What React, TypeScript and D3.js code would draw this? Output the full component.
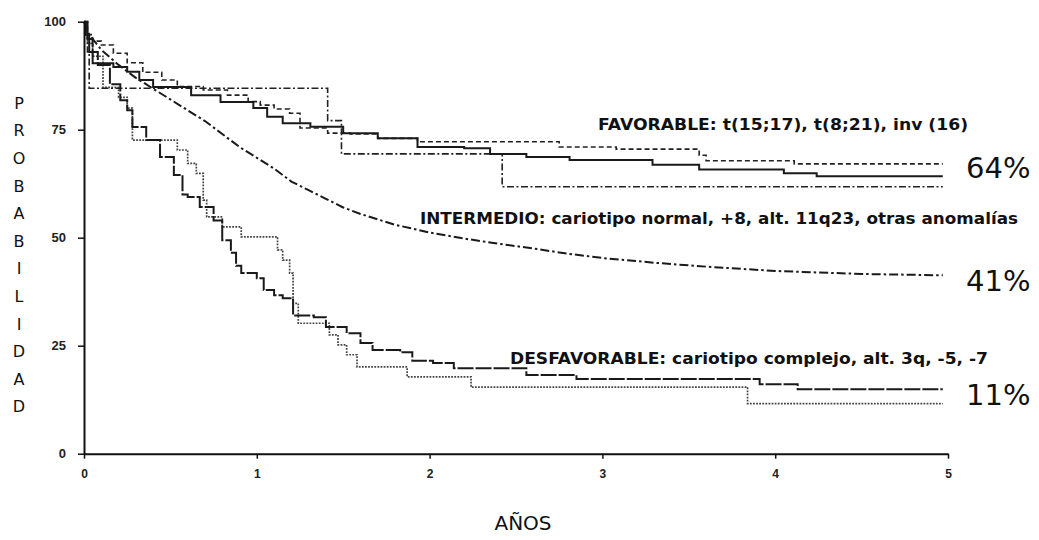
import * as d3 from 'd3';
import React, { useRef, useEffect } from 'react';

// Kaplan-Meier curves, [years, % probability]
const favSolid = [
  [0, 100], [0.01, 97], [0.03, 93], [0.05, 90.4], [0.17, 89.5], [0.25, 88.4], [0.32, 86.5],
  [0.4, 84.9], [0.62, 83], [0.79, 81.4], [0.98, 80], [1.06, 78], [1.15, 76.5], [1.31, 75.7],
  [1.5, 74.2], [1.7, 73], [1.93, 71], [2.2, 70.7], [2.35, 69.4], [2.56, 68.7], [2.81, 68],
  [3.29, 66.9], [3.56, 65.8], [4.05, 64.9], [4.24, 64.2], [4.97, 64.2],
];
const favDashed = [
  [0, 100], [0.02, 97], [0.05, 95.5], [0.1, 94.6], [0.17, 92.7], [0.25, 90.5], [0.34, 88.3],
  [0.45, 86.5], [0.54, 85], [0.69, 84.2], [0.83, 83], [0.95, 81.5], [1.02, 80.7], [1.1, 79.8],
  [1.19, 78.8], [1.25, 75.4], [1.41, 74.2], [1.54, 74], [1.7, 73], [1.93, 72.2], [2.75, 71],
  [3.08, 70.5], [3.56, 69.1], [3.6, 67.8], [4.11, 67.1], [4.97, 67.1],
];
const favDashDot = [
  [0, 100], [0.01, 97], [0.02, 93], [0.03, 84.6], [1.41, 77.1], [1.49, 69.4], [2.42, 61.8], [4.97, 61.8],
];
const intermedio = [
  [0, 100], [0.03, 97], [0.1, 93.5], [0.2, 90], [0.3, 87], [0.4, 84.5], [0.5, 82], [0.6, 79.5],
  [0.7, 77], [0.8, 74], [0.9, 71], [1.0, 68.5], [1.1, 66], [1.2, 63], [1.3, 61], [1.4, 59],
  [1.5, 57], [1.6, 55.5], [1.8, 53], [2.0, 51.2], [2.2, 49.8], [2.4, 48.6], [2.6, 47.5],
  [2.8, 46.3], [3.0, 45.3], [3.3, 44.2], [3.6, 43.3], [4.0, 42.3], [4.5, 41.6], [4.97, 41.3],
];
const desfSolid = [
  [0, 100], [0.02, 96], [0.05, 93], [0.08, 90], [0.15, 85.5], [0.21, 81.8], [0.25, 79.5],
  [0.28, 75.6], [0.36, 72.6], [0.44, 68.7], [0.52, 64.5], [0.57, 60], [0.6, 59.4], [0.67, 57.1],
  [0.75, 54], [0.8, 49.4], [0.85, 46.5], [0.88, 43.5], [0.91, 41.8], [1.0, 40.6], [1.04, 37.9],
  [1.1, 36.7], [1.15, 36], [1.21, 32], [1.33, 31.6], [1.4, 29.3], [1.52, 27.9], [1.6, 25.6],
  [1.67, 24], [1.83, 23.5], [1.9, 21.5], [2.02, 21], [2.14, 19.8], [2.56, 18.2], [2.85, 17.3],
  [3.91, 16.1], [4.13, 14.9], [4.97, 14.9],
];
const desfDotted = [
  [0, 100], [0.02, 95], [0.05, 92], [0.11, 84.8], [0.2, 82.5], [0.25, 80], [0.28, 72.6],
  [0.54, 70.3], [0.6, 67.2], [0.65, 64.9], [0.69, 58.7], [0.71, 54.8], [0.8, 52.5], [0.91, 50.2],
  [1.12, 47.2], [1.15, 44.8], [1.19, 41.8], [1.21, 34.8], [1.24, 30.2], [1.42, 27.5],
  [1.47, 25.2], [1.52, 22.9], [1.58, 20.1], [1.87, 17.8], [2.24, 15.4], [3.84, 11.6], [4.97, 11.6],
];

const xTicks = [0, 1, 2, 3, 4, 5];
const yTicks = [0, 25, 50, 75, 100];
const yLetters = 'PROBABILIDAD'.split('');

const groupLabels = [
  { text: 'FAVORABLE: t(15;17), t(8;21), inv (16)', x: 598, y: 130, len: 370 },
  { text: 'INTERMEDIO: cariotipo normal, +8, alt. 11q23, otras anomalías', x: 420, y: 224, len: 598 },
  { text: 'DESFAVORABLE: cariotipo complejo, alt. 3q, -5, -7', x: 510, y: 364, len: 478 },
];
const pctLabels = [
  { text: '64%', y: 178 },
  { text: '41%', y: 291 },
  { text: '11%', y: 405 },
];

export default function App() {
  const xAxisRef = useRef(null);
  const yAxisRef = useRef(null);

  const x = d3.scaleLinear().domain([0, 5]).range([84, 948]);
  const y = d3.scaleLinear().domain([0, 100]).range([453.7, 21.7]);

  const step = d3.line().x(d => x(d[0])).y(d => y(d[1])).curve(d3.curveStepAfter);
  const smooth = d3.line().x(d => x(d[0])).y(d => y(d[1]));

  useEffect(() => {
    const gx = d3.select(xAxisRef.current);
    gx.selectAll('*').remove();
    gx.call(d3.axisBottom(x).tickValues(xTicks).tickSize(5).tickSizeOuter(0).tickPadding(11).tickFormat(d3.format('d')));
    gx.select('.domain').attr('stroke', '#111').attr('stroke-width', 2);
    gx.selectAll('.tick line').attr('stroke', '#111').attr('stroke-width', 1.5);
    gx.selectAll('text')
      .attr('fill', '#222')
      .attr('font-family', 'Liberation Sans, Arial, sans-serif')
      .attr('font-weight', 'bold')
      .attr('font-size', '12px');

    const gy = d3.select(yAxisRef.current);
    gy.selectAll('*').remove();
    gy.call(d3.axisLeft(y).tickValues(yTicks).tickSize(6).tickSizeOuter(0).tickPadding(12));
    gy.select('.domain').attr('stroke', '#111').attr('stroke-width', 2);
    gy.selectAll('.tick line').attr('stroke', '#111').attr('stroke-width', 1.5);
    gy.selectAll('text')
      .attr('fill', '#222')
      .attr('font-family', 'Liberation Sans, Arial, sans-serif')
      .attr('font-weight', 'bold')
      .attr('font-size', '13px');
  }, []);

  const curves = [
    { data: desfDotted, path: step, dash: '1.8,1.3', w: 1.7, color: '#444' },
    { data: favDashDot, path: step, dash: '7,2.5,2,2.5', w: 1.6, color: '#222' },
    { data: favDashed, path: step, dash: '5,3', w: 1.6, color: '#222' },
    { data: intermedio, path: smooth, dash: '9,3,2.5,3', w: 2, color: '#1a1a1a' },
    { data: desfSolid, path: step, dash: '16,2', w: 2, color: '#1a1a1a' },
    { data: favSolid, path: step, dash: null, w: 2, color: '#1a1a1a' },
  ];

  return (
    <svg width={1039} height={540} style={{ position: 'absolute', left: 0, top: 0, background: '#fff' }}>
      {curves.map((c, i) => (
        <path key={i} d={c.path(c.data)} fill="none" stroke={c.color} strokeWidth={c.w}
          strokeDasharray={c.dash || undefined} />
      ))}
      <g ref={xAxisRef} transform={`translate(0,${y(0)})`} />
      <g ref={yAxisRef} transform={`translate(${x(0)},0)`} />

      {groupLabels.map(l => (
        <text key={l.text} x={l.x} y={l.y} textLength={l.len} lengthAdjust="spacingAndGlyphs"
          fontFamily="DejaVu Sans, Verdana, sans-serif" fontWeight="bold" fontSize={16.5} fill="#111">
          {l.text}
        </text>
      ))}
      {pctLabels.map(l => (
        <text key={l.text} x={966} y={l.y} fontFamily="DejaVu Sans, Verdana, sans-serif"
          fontSize={29} fill="#111">
          {l.text}
        </text>
      ))}
      {yLetters.map((c, i) => (
        <text key={i} x={19} y={103 + i * 27.6} dy="0.36em" textAnchor="middle"
          fontFamily="DejaVu Sans, Verdana, sans-serif" fontSize={16} fill="#111">
          {c}
        </text>
      ))}
      <text x={523} y={530} textAnchor="middle" fontFamily="DejaVu Sans, Verdana, sans-serif"
        fontSize={20} fill="#111">AÑOS</text>
    </svg>
  );
}
